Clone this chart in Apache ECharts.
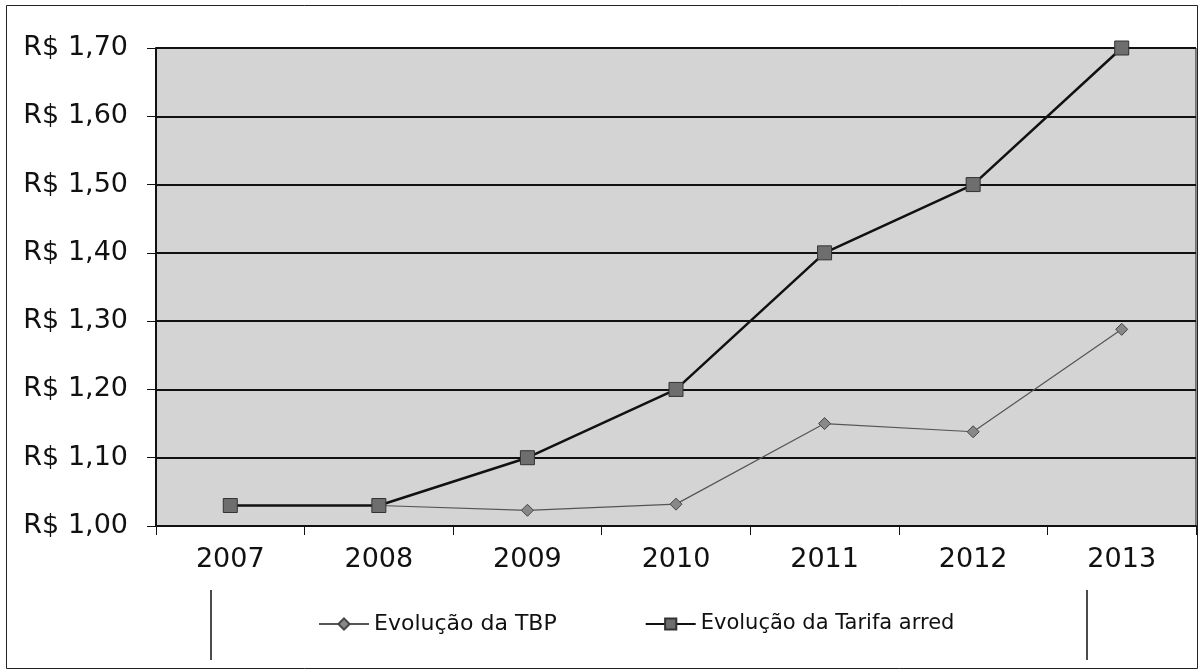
<!DOCTYPE html>
<html><head><meta charset="utf-8">
<script src="https://cdn.jsdelivr.net/npm/echarts@6/dist/echarts.min.js"></script>
<style>html,body{margin:0;padding:0;background:#fff}#c{width:1201px;height:672px}</style>
</head><body><div id="c"></div>
<script>
const categories = ['2007','2008','2009','2010','2011','2012','2013'];
const tbp = [1.03, 1.03, 1.023, 1.032, 1.15, 1.138, 1.288];
const tarifa = [1.03, 1.03, 1.10, 1.20, 1.40, 1.50, 1.70];
const seriesNames = ['Evolução da TBP', 'Evolução da Tarifa arred'];
const yTicks = [1.0, 1.1, 1.2, 1.3, 1.4, 1.5, 1.6, 1.7];

const chart = echarts.init(document.getElementById('c'));
const font = 'DejaVu Sans';
chart.setOption({
  animation: false,
  backgroundColor: '#fff',
  textStyle: {fontFamily: font},
  grid: {left: 156, right: 5, top: 48, bottom: 146, show: true, backgroundColor: '#d4d4d4', borderColor: '#111', borderWidth: 1},
  xAxis: {
    type: 'category', data: categories, boundaryGap: true,
    axisLine: {lineStyle: {color: '#111', width: 2}},
    axisTick: {show: true, length: 9, lineStyle: {color: '#111'}},
    axisLabel: {color: '#111', fontSize: 27, margin: 20, fontFamily: font},
    splitLine: {show: false}
  },
  yAxis: {
    type: 'value', min: yTicks[0], max: yTicks[yTicks.length-1], interval: 0.1,
    axisLine: {show: true, lineStyle: {color: '#111', width: 2}},
    axisTick: {show: true, length: 9, lineStyle: {color: '#111'}},
    axisLabel: {color: '#111', fontSize: 27, margin: 28, fontFamily: font,
      formatter: v => 'R$ ' + v.toFixed(2).replace('.', ',')},
    splitLine: {show: true, lineStyle: {color: '#111', width: 2}}
  },
  legend: {
    top: 608, left: 313, itemGap: 88, itemWidth: 50, itemHeight: 14,
    textStyle: {fontSize: 22, color: '#111', fontFamily: font},
    data: [
      {name: seriesNames[0]},
      {name: seriesNames[1], textStyle: {fontSize: 21}}
    ]
  },
  graphic: [
    {type: 'rect', shape: {x: 6.5, y: 5.5, width: 1191, height: 663}, style: {fill: null, stroke: '#222', lineWidth: 1}, silent: true},
    {type: 'line', shape: {x1: 211, y1: 590, x2: 211, y2: 660}, style: {stroke: '#111', lineWidth: 1.5}},
    {type: 'line', shape: {x1: 1087, y1: 590, x2: 1087, y2: 660}, style: {stroke: '#111', lineWidth: 1.5}}
  ],
  series: [
    {name: seriesNames[0], type: 'line', data: tbp, symbol: 'diamond', symbolSize: 12,
      lineStyle: {color: '#555', width: 1.2}, itemStyle: {color: '#888', borderColor: '#444', borderWidth: 1}, z: 3},
    {name: seriesNames[1], type: 'line', data: tarifa, symbol: 'rect', symbolSize: 14,
      lineStyle: {color: '#111', width: 2.5}, itemStyle: {color: '#6e6e6e', borderColor: '#333', borderWidth: 1}, z: 4}
  ]
});
</script></body></html>
